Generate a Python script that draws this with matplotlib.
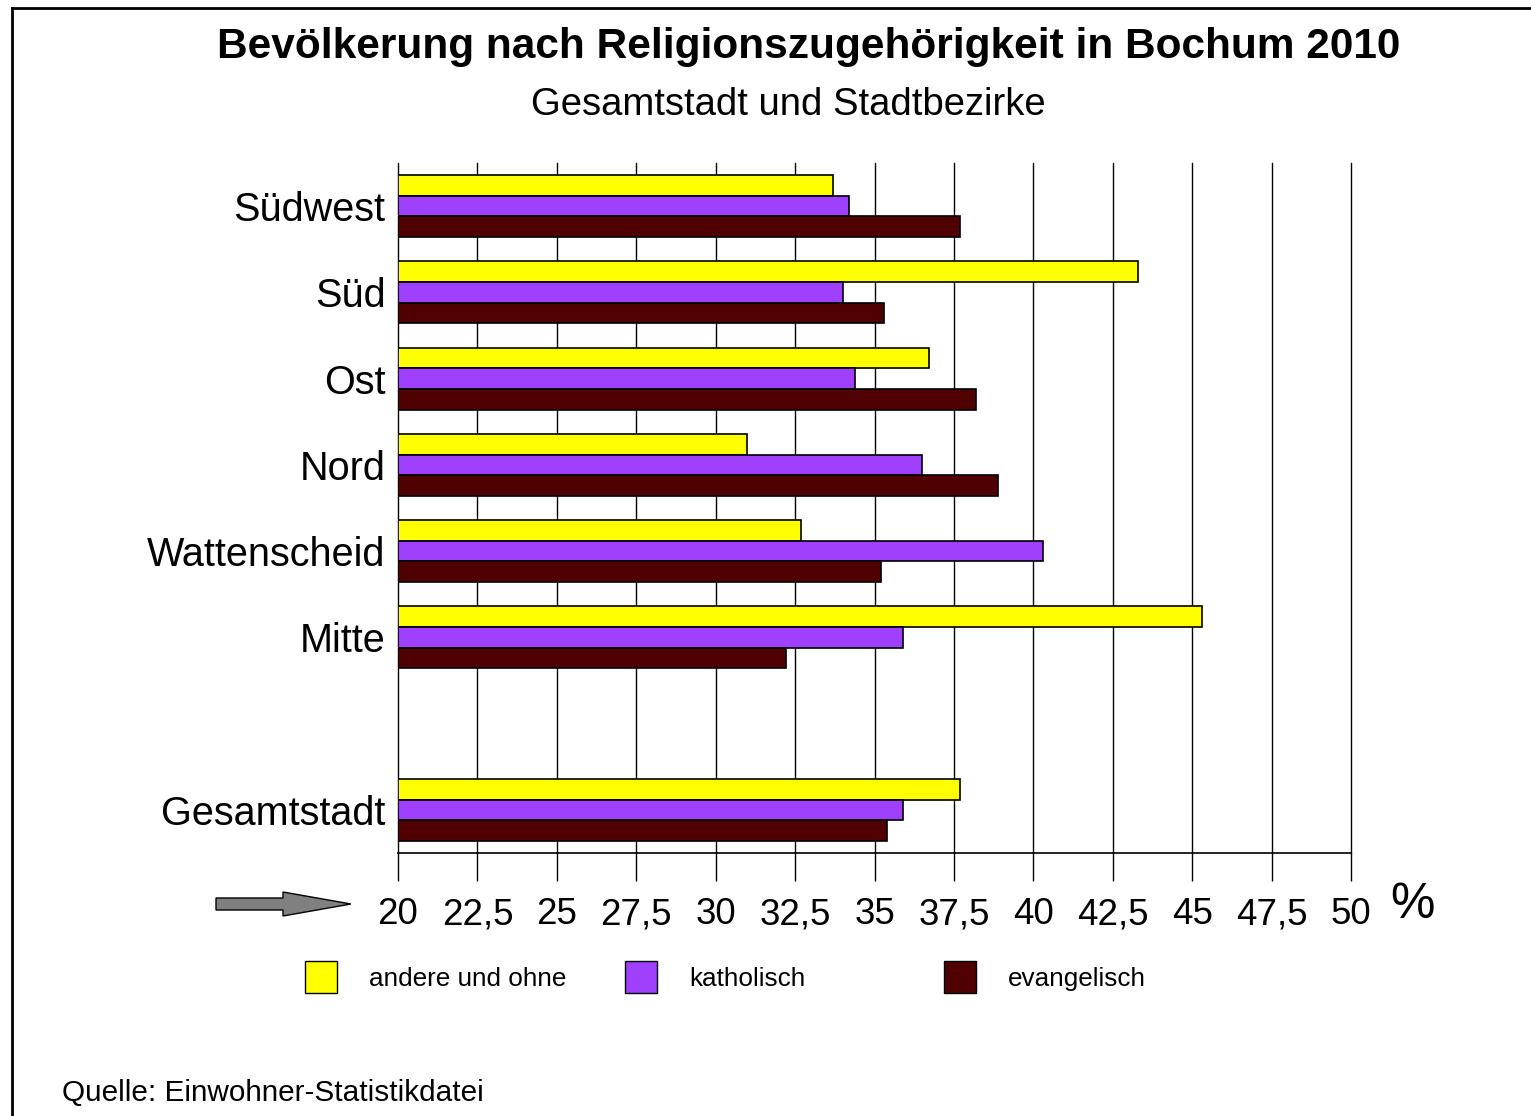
import matplotlib.pyplot as plt
from matplotlib.patches import Rectangle, FancyArrow
from matplotlib.lines import Line2D

plt.rcParams['font.family'] = ['Liberation Sans', 'DejaVu Sans']

bezirke = ['Südwest', 'Süd', 'Ost', 'Nord', 'Wattenscheid', 'Mitte', 'Gesamtstadt']
ypos = [0, 1, 2, 3, 4, 5, 7]
andere = [33.7, 43.3, 36.7, 31.0, 32.7, 45.3, 37.7]
katholisch = [34.2, 34.0, 34.4, 36.5, 40.3, 35.9, 35.9]
evangelisch = [37.7, 35.3, 38.2, 38.9, 35.2, 32.2, 35.4]
ticks = [20, 22.5, 25, 27.5, 30, 32.5, 35, 37.5, 40, 42.5, 45, 47.5, 50]
tick_labels = [('%g' % t).replace('.', ',') for t in ticks]

series = [('andere und ohne', andere, '#FFFF00'),
          ('katholisch', katholisch, '#A040FF'),
          ('evangelisch', evangelisch, '#500000')]

fig = plt.figure(figsize=(15.31, 11.16), dpi=100)
ax = fig.add_axes([398/1531, 1 - 853/1116, 953/1531, 690/1116])

h = 0.24
for i, (name, vals, col) in enumerate(series):
    y = [p + (i - 1) * h for p in ypos]
    ax.barh(y, [v - 20 for v in vals], left=20, height=h, color=col,
            edgecolor='black', linewidth=1.2, zorder=3)

ax.set_xlim(20, 50)
ax.set_ylim(7.5, -0.5)
for t in ticks:
    ax.axvline(t, color='black', linewidth=1.0, zorder=1, clip_on=False)
ax.set_xticks(ticks)
ax.set_xticklabels(tick_labels, fontsize=26.5)
ax.tick_params(axis='x', length=20, width=1, pad=12)
ax.set_yticks(ypos)
ax.set_yticklabels(bezirke, fontsize=28.5)
ax.tick_params(axis='y', length=0, pad=9)
for s in ['top', 'right', 'left']:
    ax.spines[s].set_visible(False)
ax.spines['bottom'].set_linewidth(1.2)

fig.text(1390/1531, 1 - 905/1116, '%', fontsize=36, ha='left', va='center')

# title
fig.text(809/1531, 1 - 47/1116, 'Bevölkerung nach Religionszugehörigkeit in Bochum 2010',
         fontsize=30.5, fontweight='bold', ha='center', va='center')
fig.text(788/1531, 1 - 105/1116, 'Gesamtstadt und Stadtbezirke',
         fontsize=27.5, ha='center', va='center')

# arrow
arr = FancyArrow(216/1531, 1 - 904/1116, 135/1531, 0, width=12/1116,
                 head_width=24/1116, head_length=68/1531, length_includes_head=True,
                 facecolor='#808080', edgecolor='black', linewidth=1,
                 transform=fig.transFigure)
fig.add_artist(arr)

# legend
leg_x = [305, 625, 944]
for (name, vals, col), lx in zip(series, leg_x):
    fig.add_artist(Rectangle((lx/1531, 1 - 993/1116), 32/1531, 32/1116,
                             facecolor=col, edgecolor='black', linewidth=1,
                             transform=fig.transFigure))
    fig.text((lx + 64)/1531, 1 - 979/1116, name, fontsize=18.8, ha='left', va='center')

fig.text(62/1531, 1 - 1093/1116, 'Quelle: Einwohner-Statistikdatei',
         fontsize=21.4, ha='left', va='center')

# frame
fig.add_artist(Line2D([12/1531, 12/1531], [0, 1 - 8/1116], color='black', linewidth=2,
                      transform=fig.transFigure))
fig.add_artist(Line2D([12/1531, 1], [1 - 8/1116, 1 - 8/1116], color='black', linewidth=2,
                      transform=fig.transFigure))

fig.savefig('out.png', dpi=100)
